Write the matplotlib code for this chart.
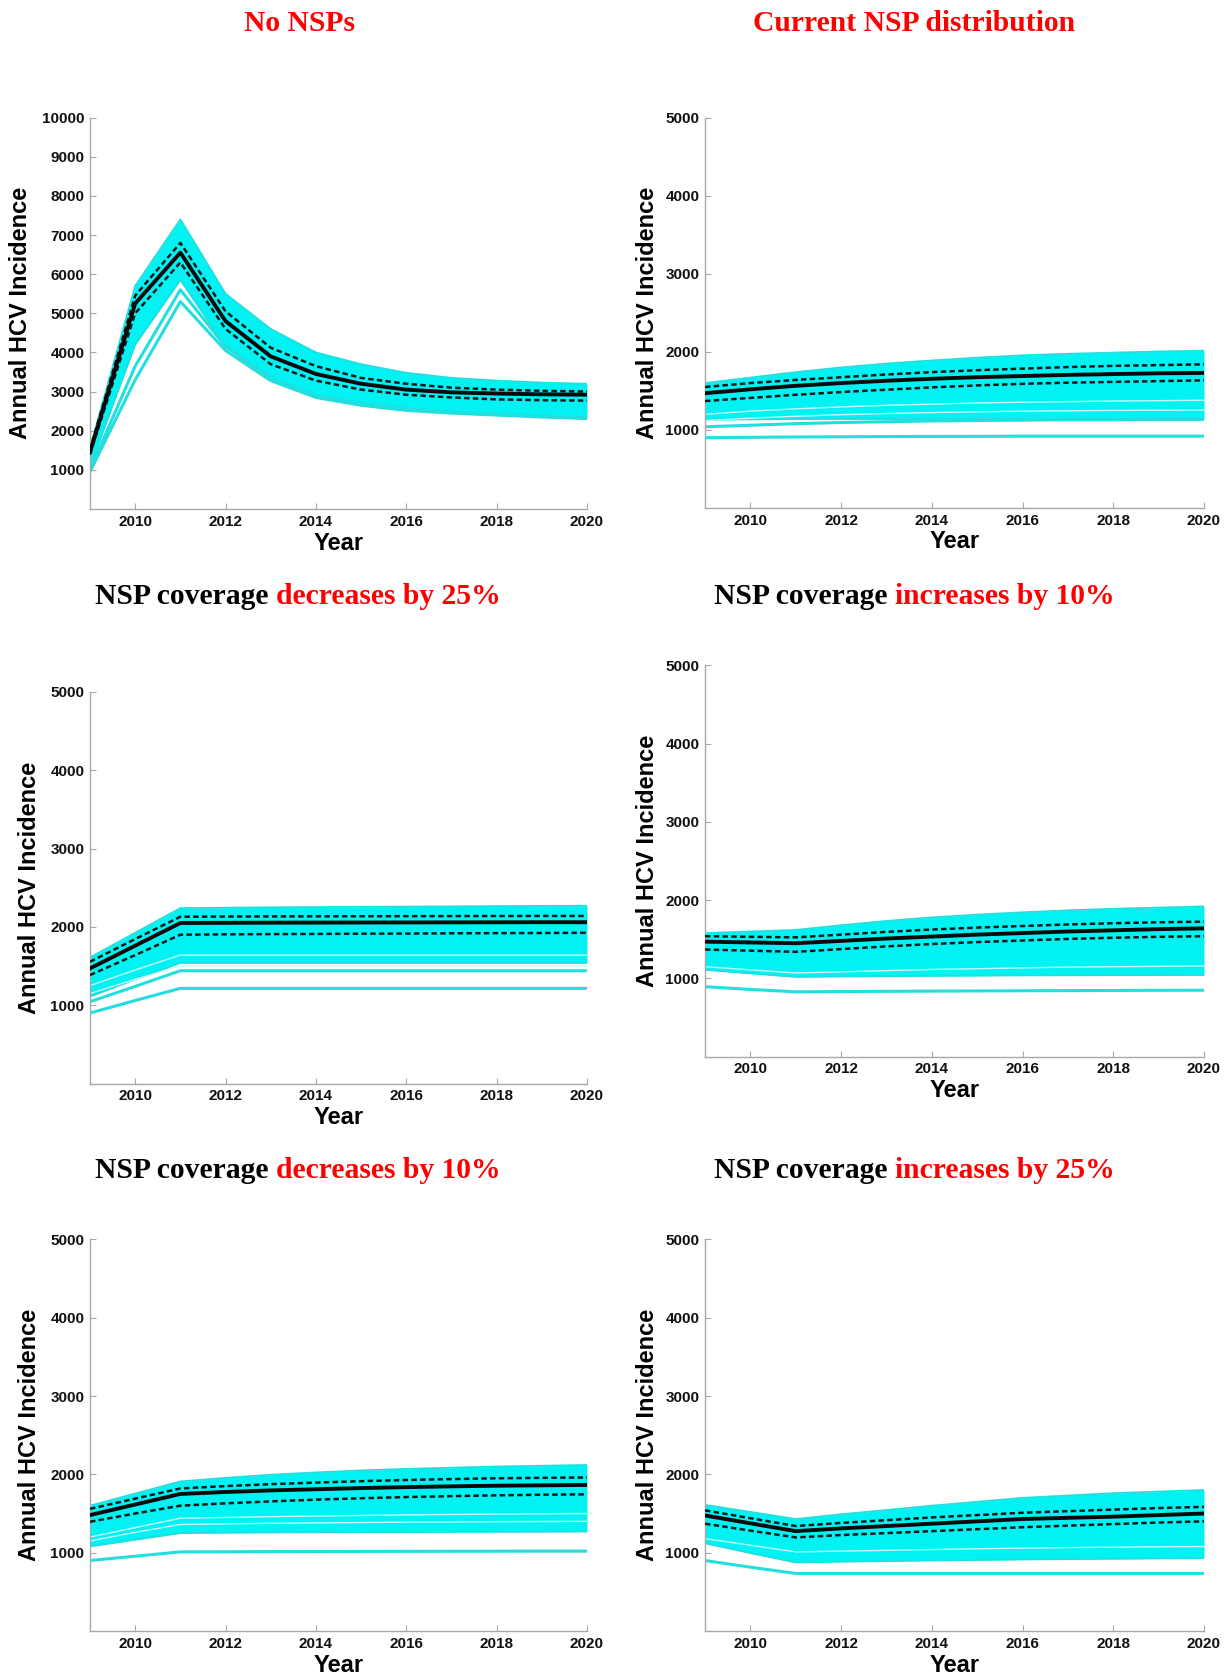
import matplotlib
matplotlib.use("Agg")
import matplotlib.pyplot as plt

# ---------------- data ----------------
years = [2009, 2010, 2011, 2012, 2013, 2014, 2015, 2016, 2017, 2018, 2019, 2020]
xticks = [2010, 2012, 2014, 2016, 2018, 2020]

# Panel 1: No NSPs
p1_median = [1450, 5250, 6550, 4800, 3900, 3450, 3200, 3050, 2980, 2950, 2930, 2920]
p1_q_hi   = [1520, 5450, 6800, 5050, 4120, 3650, 3350, 3200, 3100, 3050, 3020, 3000]
p1_q_lo   = [1400, 5000, 6300, 4600, 3700, 3280, 3050, 2920, 2850, 2800, 2780, 2770]
p1_upper  = [1560, 5700, 7400, 5500, 4600, 4000, 3700, 3480, 3350, 3280, 3230, 3200]
p1_lower  = [1080, 4200, 5850, 4150, 3350, 2900, 2700, 2560, 2480, 2420, 2370, 2320]
p1_lines  = [[950, 3300, 5300, 4050, 3280, 2850, 2650, 2520, 2450, 2400, 2350, 2310],
             [1000, 3650, 5600, 4150, 3350, 2900, 2700, 2560, 2480, 2420, 2370, 2330]]
p1_gaps   = []

# Panel 2: Current NSP distribution
p2_median = [1470, 1520, 1565, 1600, 1630, 1655, 1675, 1690, 1705, 1715, 1725, 1730]
p2_q_hi   = [1550, 1600, 1640, 1675, 1710, 1740, 1765, 1785, 1805, 1820, 1830, 1840]
p2_q_lo   = [1370, 1410, 1450, 1485, 1515, 1545, 1570, 1590, 1605, 1615, 1625, 1635]
p2_upper  = [1600, 1670, 1740, 1800, 1850, 1890, 1925, 1955, 1975, 1990, 2005, 2015]
p2_lower  = [1130, 1135, 1140, 1140, 1140, 1140, 1140, 1140, 1140, 1140, 1140, 1140]
p2_lines  = [[1040, 1060, 1080, 1095, 1105, 1115, 1120, 1125, 1130, 1130, 1135, 1135],
             [900, 905, 910, 912, 915, 917, 918, 920, 920, 920, 920, 920]]
p2_gaps   = [[1120, 1150, 1175, 1195, 1210, 1222, 1232, 1240, 1245, 1250, 1252, 1255],
             [1200, 1240, 1270, 1295, 1315, 1330, 1345, 1355, 1362, 1370, 1375, 1380]]

# Panel 3: NSP coverage decreases by 25%
p3_median = [1470, 1760, 2050, 2052, 2054, 2055, 2056, 2057, 2058, 2059, 2060, 2060]
p3_q_hi   = [1555, 1845, 2130, 2132, 2134, 2135, 2136, 2137, 2138, 2139, 2140, 2140]
p3_q_lo   = [1385, 1640, 1900, 1905, 1908, 1910, 1913, 1915, 1918, 1920, 1922, 1925]
p3_upper  = [1610, 1925, 2240, 2245, 2250, 2253, 2256, 2259, 2262, 2265, 2268, 2270]
p3_lower  = [1110, 1330, 1540, 1540, 1540, 1540, 1540, 1540, 1540, 1540, 1540, 1540]
p3_lines  = [[1045, 1240, 1440, 1440, 1440, 1440, 1440, 1440, 1440, 1440, 1440, 1440],
             [900, 1060, 1215, 1215, 1215, 1215, 1215, 1215, 1215, 1215, 1215, 1215]]
p3_gaps   = [[1150, 1330, 1500, 1500, 1500, 1500, 1500, 1500, 1500, 1500, 1500, 1500],
             [1250, 1450, 1640, 1640, 1640, 1640, 1640, 1640, 1640, 1640, 1640, 1640]]

# Panel 4: NSP coverage increases by 10%
p4_median = [1470, 1460, 1450, 1480, 1510, 1535, 1560, 1580, 1600, 1615, 1630, 1640]
p4_q_hi   = [1540, 1532, 1525, 1560, 1595, 1625, 1650, 1670, 1690, 1705, 1718, 1725]
p4_q_lo   = [1370, 1355, 1340, 1375, 1410, 1440, 1465, 1485, 1505, 1520, 1532, 1540]
p4_upper  = [1580, 1600, 1620, 1680, 1735, 1780, 1815, 1845, 1870, 1890, 1905, 1920]
p4_lower  = [1110, 1065, 1020, 1025, 1030, 1033, 1036, 1039, 1041, 1043, 1044, 1045]
p4_lines  = [[895, 860, 830, 833, 836, 839, 841, 843, 845, 847, 849, 850]]
p4_gaps   = [[1150, 1110, 1070, 1085, 1100, 1115, 1125, 1135, 1145, 1150, 1155, 1160]]

# Panel 5: NSP coverage decreases by 10%
p5_median = [1480, 1615, 1750, 1775, 1795, 1810, 1825, 1837, 1847, 1855, 1860, 1865]
p5_q_hi   = [1560, 1690, 1820, 1850, 1875, 1895, 1913, 1928, 1940, 1950, 1956, 1960]
p5_q_lo   = [1395, 1500, 1600, 1630, 1655, 1677, 1695, 1710, 1722, 1732, 1740, 1745]
p5_upper  = [1600, 1755, 1910, 1955, 1995, 2025, 2050, 2070, 2085, 2100, 2110, 2120]
p5_lower  = [1080, 1165, 1250, 1255, 1258, 1260, 1262, 1264, 1266, 1267, 1268, 1270]
p5_lines  = [[900, 955, 1010, 1012, 1014, 1015, 1016, 1017, 1018, 1019, 1020, 1020]]
p5_gaps   = [[1200, 1320, 1440, 1450, 1460, 1468, 1475, 1482, 1488, 1493, 1497, 1500],
             [1150, 1260, 1360, 1368, 1375, 1380, 1385, 1390, 1393, 1396, 1398, 1400]]

# Panel 6: NSP coverage increases by 25%
p6_median = [1475, 1375, 1275, 1310, 1340, 1370, 1400, 1430, 1445, 1460, 1480, 1500]
p6_q_hi   = [1540, 1440, 1340, 1380, 1415, 1450, 1480, 1510, 1530, 1550, 1570, 1585]
p6_q_lo   = [1370, 1282, 1195, 1225, 1250, 1275, 1300, 1325, 1345, 1365, 1385, 1400]
p6_upper  = [1610, 1520, 1430, 1490, 1545, 1600, 1650, 1700, 1730, 1760, 1780, 1800]
p6_lower  = [1120, 995, 875, 885, 893, 900, 907, 913, 918, 922, 926, 930]
p6_lines  = [[900, 815, 735, 735, 735, 735, 735, 735, 735, 735, 735, 735]]
p6_gaps   = [[1180, 1095, 1010, 1020, 1030, 1040, 1050, 1058, 1065, 1070, 1075, 1078]]

titles = [("", "No NSPs"), ("", "Current NSP distribution"),
          ("NSP coverage ", "decreases by 25%"), ("NSP coverage ", "increases by 10%"),
          ("NSP coverage ", "decreases by 10%"), ("NSP coverage ", "increases by 25%")]
ylims = [10000, 5000, 5000, 5000, 5000, 5000]
yticks_list = [[1000, 2000, 3000, 4000, 5000, 6000, 7000, 8000, 9000, 10000],
               [1000, 2000, 3000, 4000, 5000]] + [[1000, 2000, 3000, 4000, 5000]] * 4

panels = [
    (p1_median, p1_q_hi, p1_q_lo, p1_upper, p1_lower, p1_lines, p1_gaps),
    (p2_median, p2_q_hi, p2_q_lo, p2_upper, p2_lower, p2_lines, p2_gaps),
    (p3_median, p3_q_hi, p3_q_lo, p3_upper, p3_lower, p3_lines, p3_gaps),
    (p4_median, p4_q_hi, p4_q_lo, p4_upper, p4_lower, p4_lines, p4_gaps),
    (p5_median, p5_q_hi, p5_q_lo, p5_upper, p5_lower, p5_lines, p5_gaps),
    (p6_median, p6_q_hi, p6_q_lo, p6_upper, p6_lower, p6_lines, p6_gaps),
]

# ---------------- layout (pixels in 1232x1677) ----------------
W, H = 1232, 1677
boxes = [(90, 587, 117.6, 509), (705, 1204, 117.6, 508),
         (90, 587, 692, 1083.5), (705, 1204, 665.2, 1056.8),
         (90, 587, 1239.4, 1631), (705, 1204, 1239.4, 1631)]
title_pos = [(299, 23.5), (914, 23.5), (298, 597), (914, 597), (298, 1171), (914, 1171)]
ylab_x = [21, 647, 30, 647, 30, 647]

CYAN = "#00f2f2"
CYAN_EDGE = "#22dede"
GAP = "#c4fbfb"
SPINE = "#a8a8a8"
SANS = "Liberation Sans"
SERIF = "Liberation Serif"

fig = plt.figure(figsize=(W / 100, H / 100), dpi=100)
fig.patch.set_facecolor("white")

for i, (box, data) in enumerate(zip(boxes, panels)):
    l, r, t, b = box
    ax = fig.add_axes([l / W, 1 - b / H, (r - l) / W, (b - t) / H])
    med, qh, ql, up, lo, lines, gaps = data
    ax.fill_between(years, lo, up, color=CYAN, lw=0, zorder=1)
    ax.plot(years, up, color=CYAN_EDGE, lw=1.3, zorder=2)
    ax.plot(years, lo, color=CYAN_EDGE, lw=1.3, zorder=2)
    for g in gaps:
        ax.plot(years, g, color=GAP, lw=1.0, zorder=2)
    for ln in lines:
        ax.plot(years, ln, color=CYAN_EDGE, lw=2.2, zorder=2)
    ax.plot(years, qh, color="#1a1a1a", lw=1.8, ls=(0, (2.2, 1.3)), zorder=3)
    ax.plot(years, ql, color="#1a1a1a", lw=1.8, ls=(0, (2.2, 1.3)), zorder=3)
    ax.plot(years, med, color="#0a0a0a", lw=2.8, zorder=4)

    ax.set_xlim(2009, 2020)
    ax.set_ylim(0, ylims[i])
    ax.set_xticks(xticks)
    ax.set_yticks(yticks_list[i])
    for s in ["top", "right"]:
        ax.spines[s].set_visible(False)
    for s in ["left", "bottom"]:
        ax.spines[s].set_color(SPINE)
        ax.spines[s].set_linewidth(1.0)
    ax.tick_params(direction="in", length=4, width=0.8, color=SPINE,
                   labelsize=11, pad=4)
    for lab in ax.get_xticklabels() + ax.get_yticklabels():
        lab.set_fontfamily(SANS)
        lab.set_fontweight("bold")
        lab.set_color("#111111")
    ax.set_xlabel("Year", fontsize=17, fontfamily=SANS, fontweight="bold")
    ax.set_ylabel("Annual HCV Incidence", fontsize=17, fontfamily=SANS, fontweight="bold")
    ax.xaxis.set_label_coords(0.5, -0.087)
    ax.xaxis.label.set_va("center")
    ax.yaxis.set_label_coords((ylab_x[i] - l) / (r - l), 0.5)
    ax.yaxis.label.set_va("center")

# ---------------- titles ----------------
renderer = fig.canvas.get_renderer()
tprops = dict(fontsize=21.3, fontfamily=SERIF, fontweight="bold")
for (blk, red), (xc, yc) in zip(titles, title_pos):
    xf, yf = xc / W, 1 - yc / H
    if not blk:
        fig.text(xf, yf, red, ha="center", va="center", color="#ff0000", **tprops)
        continue
    tmp = fig.text(0, 0, blk + red, **tprops)
    w = tmp.get_window_extent(renderer).width / fig.bbox.width
    tmp.remove()
    x0 = xf - w / 2
    fig.text(x0, yf, blk, ha="left", va="center", color="black", **tprops)
    fig.text(x0 + w, yf, red, ha="right", va="center", color="#ff0000", **tprops)

fig.savefig("out.png", dpi=100)
